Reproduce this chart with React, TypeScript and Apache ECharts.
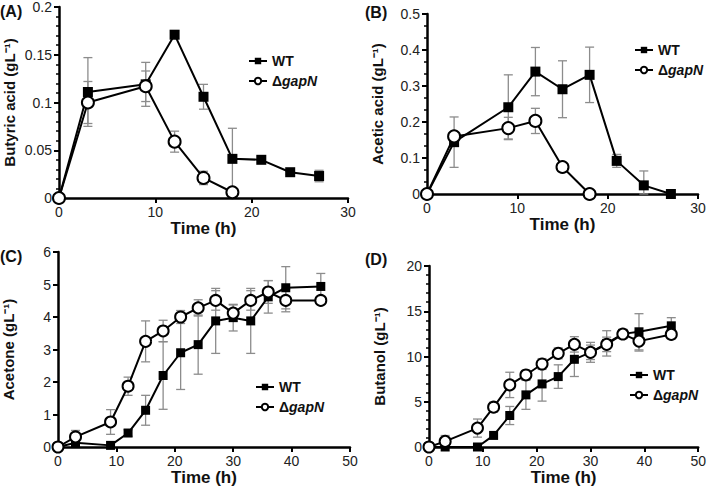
import React, { useEffect, useRef } from "react";
import * as echarts from "echarts";

// ---- Data ----
const timeAB_WT = [0, 3, 9, 12, 15, 18, 21, 24, 27];
const timeAB_KO = [0, 3, 9, 12, 15, 18];
const timeCD = [0, 3, 9, 12, 15, 18, 21, 24, 27, 30, 33, 36, 39, 45];

const butyricWT = [0, 0.111, 0.119, 0.171, 0.106, 0.041, 0.040, 0.027, 0.023];
const butyricWTErr = [0, 0.036, 0.023, 0.004, 0.013, 0.032, 0.003, 0.002, 0.006];
const butyricKO = [0, 0.1, 0.117, 0.059, 0.021, 0.006];
const butyricKOErr = [0, 0.022, 0.016, 0.011, 0.007, 0];

const aceticWT = [0, 0.144, 0.241, 0.34, 0.291, 0.331, 0.092, 0.024, 0];
const aceticWTErr = [0, 0.07, 0.09, 0.067, 0.079, 0.077, 0.018, 0.04, 0];
const aceticKO = [0, 0.16, 0.183, 0.203, 0.075, 0];
const aceticKOErr = [0, 0.01, 0.03, 0.035, 0.01, 0];

const acetoneWT = [0, 0.13, 0.05, 0.43, 1.13, 2.2, 2.9, 3.15, 3.88, 3.98, 3.88, 4.62, 4.9, 4.94];
const acetoneWTErr = [0, 0, 0, 0.1, 0.46, 1.04, 1.13, 0.91, 1.0, 0.41, 1.0, 0.5, 0.65, 0.4];
const acetoneKO = [0, 0.31, 0.77, 1.87, 3.25, 3.57, 4.0, 4.28, 4.51, 4.12, 4.51, 4.77, 4.51, 4.51];
const acetoneKOErr = [0, 0.2, 0.38, 0.28, 0.63, 0.33, 0.2, 0.25, 0.3, 0.25, 0.3, 0.35, 0.35, 0.1];

const butanolWT = [0, 0, 0, 1.28, 3.48, 5.76, 6.97, 7.78, 9.69, 10.46, 11.45, 12.5, 12.73, 13.39];
const butanolWTErr = [0, 0, 0, 0, 1.0, 1.6, 1.9, 1.3, 1.9, 0.8, 1.4, 0.5, 2.0, 0.9];
const butanolKO = [0, 0.62, 2.09, 4.4, 6.86, 7.96, 9.17, 10.35, 11.34, 10.46, 11.34, 12.48, 11.7, 12.44];
const butanolKOErr = [0, 0.65, 1.0, 0.55, 1.4, 0.5, 0.6, 0.6, 0.85, 1.1, 0.8, 0.5, 1.1, 0.5];

const panelLetters = ["(A)", "(B)", "(C)", "(D)"];
const yTitles = ["Butyric acid (gL⁻¹)", "Acetic acid (gL⁻¹)", "Acetone (gL⁻¹)", "Butanol (gL⁻¹)"];
const xTitle = "Time (h)";
const seriesNames = ["WT", "ΔgapN"];

const FONT = "'Liberation Sans', Arial, Helvetica, sans-serif";

const pairs = (t: number[], v: number[]) => t.map((x, i) => [x, v[i]]);
const errPairs = (t: number[], v: number[], e: number[]) =>
  t
    .map((x, i) => [x, Math.max(0, v[i] - e[i]), v[i] + e[i], e[i]])
    .filter((d) => d[3] > 0);

const errRender = (params: any, api: any) => {
  const x = api.value(0);
  const lo = api.value(1);
  const hi = api.value(2);
  const pLo = api.coord([x, lo]);
  const pHi = api.coord([x, hi]);
  const w = 4.5;
  const style = { stroke: "#8c8c8c", lineWidth: 1.3 };
  return {
    type: "group",
    children: [
      { type: "line", shape: { x1: pLo[0], y1: pLo[1], x2: pHi[0], y2: pHi[1] }, style },
      { type: "line", shape: { x1: pLo[0] - w, y1: pLo[1], x2: pLo[0] + w, y2: pLo[1] }, style },
      { type: "line", shape: { x1: pHi[0] - w, y1: pHi[1], x2: pHi[0] + w, y2: pHi[1] }, style },
    ],
  };
};

export default function App() {
  const ref = useRef<HTMLDivElement>(null);

  useEffect(() => {
    if (!ref.current) return;
    const chart = echarts.init(ref.current, undefined, { renderer: "svg" });

    const grids = [
      { left: 59, top: 6, width: 289, height: 192 },
      { left: 427, top: 14, width: 271, height: 180 },
      { left: 58, top: 252, width: 292, height: 195 },
      { left: 429, top: 266, width: 273, height: 181 },
    ];
    const yCfg = [
      { max: 0.2, interval: 0.05, minor: 5 },
      { max: 0.5, interval: 0.1, minor: 3 },
      { max: 6, interval: 1, minor: 0 },
      { max: 20, interval: 5, minor: 5 },
    ];
    const xMax = [30, 30, 50, 50];

    const panels = [
      { tW: timeAB_WT, tK: timeAB_KO, w: butyricWT, we: butyricWTErr, k: butyricKO, ke: butyricKOErr, big: true },
      { tW: timeAB_WT, tK: timeAB_KO, w: aceticWT, we: aceticWTErr, k: aceticKO, ke: aceticKOErr, big: true },
      { tW: timeCD, tK: timeCD, w: acetoneWT, we: acetoneWTErr, k: acetoneKO, ke: acetoneKOErr, big: false },
      { tW: timeCD, tK: timeCD, w: butanolWT, we: butanolWTErr, k: butanolKO, ke: butanolKOErr, big: false },
    ];

    const axisLine = { show: true, onZero: false, lineStyle: { color: "#000", width: 2.5 } };

    const xAxes = grids.map((_, i) => ({
      type: "value",
      gridIndex: i,
      min: 0,
      max: xMax[i],
      interval: 10,
      splitLine: { show: false },
      axisLine,
      axisTick: { show: true, length: 5, lineStyle: { width: 2, color: "#000" } },
      axisLabel: { fontSize: 14, color: "#222", fontFamily: FONT, margin: 7 },
      name: xTitle,
      nameLocation: "middle",
      nameGap: 22,
      nameTextStyle: { fontSize: 17, fontWeight: "bold", color: "#111", fontFamily: FONT },
    }));

    const yAxes = grids.map((_, i) => ({
      type: "value",
      gridIndex: i,
      min: 0,
      max: yCfg[i].max,
      interval: yCfg[i].interval,
      splitLine: { show: false },
      axisLine,
      axisTick: { show: true, length: 5, lineStyle: { width: 2, color: "#000" } },
      minorTick: {
        show: yCfg[i].minor > 0,
        splitNumber: yCfg[i].minor || 5,
        length: 3,
        lineStyle: { width: 1.5, color: "#000" },
      },
      minorSplitLine: { show: false },
      axisLabel: { fontSize: 14, color: "#222", fontFamily: FONT, margin: 7 },
      name: yTitles[i],
      nameLocation: "middle",
      nameGap: 42,
      nameTextStyle: { fontSize: 15, fontWeight: "bold", color: "#111", fontFamily: FONT },
    }));

    const series: any[] = [];
    panels.forEach((p, i) => {
      series.push({
        type: "custom",
        xAxisIndex: i,
        yAxisIndex: i,
        renderItem: errRender,
        data: [...errPairs(p.tW, p.w, p.we), ...errPairs(p.tK, p.k, p.ke)],
        encode: { x: 0, y: [1, 2] },
        z: 1,
        silent: true,
      });
      series.push({
        name: seriesNames[0],
        type: "line",
        xAxisIndex: i,
        yAxisIndex: i,
        data: pairs(p.tW, p.w),
        symbol: "rect",
        symbolSize: p.big ? 10 : 9,
        lineStyle: { color: "#000", width: 2 },
        itemStyle: { color: "#000" },
        z: 3,
      });
      series.push({
        name: seriesNames[1],
        type: "line",
        xAxisIndex: i,
        yAxisIndex: i,
        data: pairs(p.tK, p.k),
        symbol: "circle",
        symbolSize: p.big ? 12 : 11,
        showAllSymbol: true,
        lineStyle: { color: "#000", width: 2 },
        itemStyle: { color: "#fff", borderColor: "#000", borderWidth: 2 },
        z: 4,
      });
    });

    const legendPos = [
      { left: 243, top: 49 },
      { left: 629, top: 38 },
      { left: 250, top: 375 },
      { left: 624, top: 363 },
    ];
    const legends = legendPos.map((pos) => ({
      ...pos,
      orient: "vertical",
      itemWidth: 18,
      itemHeight: 8,
      itemGap: 6,
      data: seriesNames,
      selectedMode: false,
      formatter: (name: string) => (name === "WT" ? "{b|WT}" : "{b|Δ}{i|gapN}"),
      textStyle: {
        rich: {
          b: { fontSize: 14, fontWeight: "bold", fontFamily: FONT, color: "#111", lineHeight: 18 },
          i: { fontSize: 14, fontWeight: "bold", fontStyle: "italic", fontFamily: FONT, color: "#111", lineHeight: 18 },
        },
      },
    }));

    const letterPos = [
      { x: 0, y: 12 },
      { x: 365, y: 13 },
      { x: 0, y: 257 },
      { x: 365, y: 260 },
    ];
    const graphic = panelLetters.map((t, i) => ({
      type: "text",
      left: letterPos[i].x,
      top: letterPos[i].y - 9,
      style: { text: t, font: `bold 16px ${FONT}`, fill: "#111" },
    }));

    chart.setOption({
      animation: false,
      backgroundColor: "#fff",
      grid: grids,
      xAxis: xAxes,
      yAxis: yAxes,
      series,
      legend: legends,
      graphic,
    });

    return () => chart.dispose();
  }, []);

  return <div ref={ref} style={{ width: 709, height: 492, position: "absolute", left: 0, top: 0 }} />;
}
